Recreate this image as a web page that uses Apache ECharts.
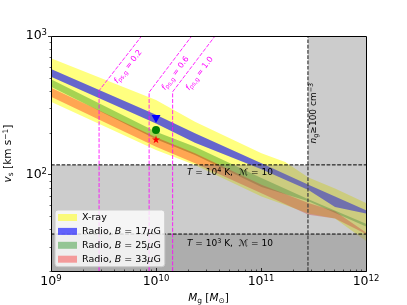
<!DOCTYPE html>
<html><head><meta charset="utf-8">
<script src="https://cdn.jsdelivr.net/npm/echarts@6.0.0/dist/echarts.min.js"></script>
<style>html,body{margin:0;padding:0;background:#fff}#c{width:407px;height:305px}</style>
</head><body><div id="c"></div>
<script>
// ---------------- data ----------------
// X-ray band
const xrayMass  = [1e9, 1e10, 2.35e10, 1.01e11, 1.7e11, 2.83e11, 5.07e11, 1e12];
const xrayHigh  = [690, 344, 240, 142, 123, 95, 79, 62];
const xrayLow   = [335, 150, 117, 69, 60, 52, 48, 33];
// Radio B = 17 muG
const b17Mass = [1e9, 1e10, 2.35e10, 1.01e11, 2.83e11, 5.07e11, 1e12];
const b17High = [577, 270, 198, 120, 84, 69, 55];
const b17Low  = [508, 233, 169, 109, 77, 58, 52];
// Radio B = 25 muG
const b25Mass = [1e9, 1e10, 2.35e10, 1.01e11, 2.83e11, 1e12];
const b25High = [486, 203, 158, 94, 66, 44];
const b25Low  = [430, 179, 138, 81, 64, 42];
// Radio B = 33 muG
const b33Mass = [1e9, 1e10, 2.35e10, 1.01e11, 2.83e11, 5.07e11, 1e12];
const b33High = [422, 185, 142, 84, 62, 54, 38];
const b33Low  = [364, 158, 120, 73, 51, 48, 37];
// markers at M = 1e10
const markerMass = [1e10, 1e10, 1e10];
const markerV    = [251, 209, 179];
// thresholds
const vT4 = 117;     // T = 1e4 K, M = 10
const vT3 = 37;      // T = 1e3 K, M = 10
const mDens = 2.8e11; // n_g >= 100 cm^-3
// f_ps,g lines
const fLabels    = ['0.2', '0.6', '1.0'];
const fLineMass  = [2.87e9, 8.6e9, 1.44e10];
const fKneeV     = [403, 392, 395];
const fTopMass   = [7.3e9, 2.19e10, 3.65e10];
const fLabelMass = [5.44e9, 1.53e10, 2.6e10];
const fLabelV    = [600, 537, 535];
// axes
const xMin = 1e9, xMax = 1e12, yMin = 20, yMax = 1000;
const xMajor = [1e9, 1e10, 1e11, 1e12];
const yMajor = [100, 1000];
const legendNames = ['X-ray', 'Radio, B = 17μG', 'Radio, B = 25μG', 'Radio, B = 33μG'];

// ---------------- chart ----------------
const FF = 'DejaVu Sans';
const chart = echarts.init(document.getElementById('c'), null, {renderer: 'canvas'});

function band(name, mass, lo, hi, color, z) {
  return {
    type: 'custom', name: name, z: z, clip: true, silent: true,
    coordinateSystem: 'cartesian2d', encode: {x: 0, y: 1},
    itemStyle: {color: color},
    data: mass.map((m, i) => [m, hi[i]]),
    renderItem: function (params, api) {
      if (params.dataIndex !== 0) return null;
      const pts = [];
      for (let i = 0; i < mass.length; i++) pts.push(api.coord([mass[i], hi[i]]));
      for (let i = mass.length - 1; i >= 0; i--) pts.push(api.coord([mass[i], lo[i]]));
      return {type: 'polygon', shape: {points: pts}, style: {fill: color}};
    }
  };
}

const regionData = [
  [xMin, yMin, xMax, vT4],
  [mDens, vT4, xMax, yMax],
  [xMin, yMin, xMax, vT3]
];

function sup(t) { return '{s|' + t + '}'; }
const richBase = {
  n: {fontFamily: FF, fontSize: 9, fill: '#000', lineHeight: 12},
  i: {fontFamily: FF, fontSize: 9, fontStyle: 'italic', fill: '#000', lineHeight: 12},
  s: {fontFamily: FF, fontSize: 6.5, fill: '#000', verticalAlign: 'top', lineHeight: 7},
  b: {fontFamily: FF, fontSize: 6.5, fill: '#000', verticalAlign: 'bottom', lineHeight: 7},
  m: {fontFamily: FF, fontSize: 9, fontStyle: 'italic', fill: '#000', lineHeight: 12}
};

const annTexts = [
  '{i|T}{n| = 10}{s|4}{n| K,  }{m|ℳ}{n| = 10}',
  '{i|T}{n| = 10}{s|3}{n| K,  }{m|ℳ}{n| = 10}',
  '{i|n}{b|g}{n|≥100 cm}{s|−3}'
];
const annMass = [1.97e10, 1.97e10, 3.2e11];
const annV    = [102, 31.7, 277];
const annRot  = [0, 0, Math.PI / 2];
const annAlign = ['left', 'left', 'center'];

const fRich = {
  i: {fontFamily: FF, fontSize: 8, fontStyle: 'italic', fill: '#ff00ff', lineHeight: 10},
  b: {fontFamily: FF, fontSize: 6, fill: '#ff00ff', verticalAlign: 'bottom', lineHeight: 6},
  n: {fontFamily: FF, fontSize: 8, fill: '#ff00ff', lineHeight: 10}
};

const series = [
  band('X-ray', xrayMass, xrayLow, xrayHigh, 'rgba(255,255,0,0.5)', 2),
  band(legendNames[1], b17Mass, b17Low, b17High, 'rgba(0,0,255,0.6)', 2),
  band(legendNames[2], b25Mass, b25Low, b25High, 'rgba(0,128,0,0.35)', 2),
  band(legendNames[3], b33Mass, b33Low, b33High, 'rgba(255,0,0,0.35)', 2),
  {
    type: 'custom', name: 'regions', z: 3, silent: true, clip: true,
    coordinateSystem: 'cartesian2d', encode: {x: [0, 2], y: [1, 3]},
    data: regionData,
    renderItem: function (params, api) {
      const p0 = api.coord([api.value(0), api.value(3)]);
      const p1 = api.coord([api.value(2), api.value(1)]);
      return {type: 'rect', shape: {x: p0[0], y: p0[1], width: p1[0] - p0[0], height: p1[1] - p0[1]},
              style: {fill: 'rgba(128,128,128,0.4)'}};
    }
  }
];

// magenta f lines
for (let i = 0; i < fLabels.length; i++) {
  series.push({
    type: 'line', z: 4, silent: true, showSymbol: false, symbol: 'none',
    data: [[fLineMass[i], yMin], [fLineMass[i], fKneeV[i]], [fTopMass[i], yMax]],
    lineStyle: {color: '#ff00ff', width: 1, type: [4, 1.6], opacity: 0.85}
  });
}
// threshold dashed lines
series.push({type: 'line', z: 4, silent: true, symbol: 'none', data: [[xMin, vT4], [xMax, vT4]],
  lineStyle: {color: '#000', width: 1, type: [3.7, 1.6]}});
series.push({type: 'line', z: 4, silent: true, symbol: 'none', data: [[xMin, vT3], [xMax, vT3]],
  lineStyle: {color: '#000', width: 1, type: [3.7, 1.6]}});
series.push({type: 'line', z: 4, silent: true, symbol: 'none', data: [[mDens, yMin], [mDens, yMax]],
  lineStyle: {color: '#444', width: 1.3, type: [3.7, 1.6]}});
// markers
series.push({type: 'scatter', z: 5, silent: true, symbol: 'triangle', symbolRotate: 180, symbolSize: [9, 8],
  data: [[markerMass[0], markerV[0]]], itemStyle: {color: '#0000ff', opacity: 1}});
series.push({type: 'scatter', z: 5, silent: true, symbol: 'circle', symbolSize: 8,
  data: [[markerMass[1], markerV[1]]], itemStyle: {color: '#008000', opacity: 1}});
series.push({type: 'scatter', z: 5, silent: true,
  symbol: 'path://M50,0 L61,35 L98,35 L68,57 L79,91 L50,70 L21,91 L32,57 L2,35 L39,35 Z', symbolSize: 8,
  data: [[markerMass[2], markerV[2]]], itemStyle: {color: '#ff0000', opacity: 1}});
// text annotations
series.push({
  type: 'custom', z: 6, silent: true, coordinateSystem: 'cartesian2d', encode: {x: 0, y: 1},
  data: annMass.map((m, i) => [m, annV[i]]),
  renderItem: function (params, api) {
    const k = params.dataIndex;
    const p = api.coord([api.value(0), api.value(1)]);
    return {type: 'text', x: p[0], y: p[1], rotation: annRot[k],
      style: {text: annTexts[k], rich: richBase, align: annAlign[k], verticalAlign: 'middle', fill: '#000'}};
  }
});
series.push({
  type: 'custom', z: 6, silent: true, coordinateSystem: 'cartesian2d', encode: {x: 0, y: 1},
  data: fLabelMass.map((m, i) => [m, fLabelV[i]]),
  renderItem: function (params, api) {
    const k = params.dataIndex;
    const p = api.coord([api.value(0), api.value(1)]);
    const a = api.coord([fLineMass[k], fKneeV[k]]);
    const b = api.coord([fTopMass[k], yMax]);
    const rot = Math.atan2(a[1] - b[1], b[0] - a[0]);
    return {type: 'text', x: p[0], y: p[1], rotation: rot,
      style: {text: '{i|f}{b|ps,g}{n| = ' + fLabels[k] + '}', rich: fRich, align: 'center', verticalAlign: 'middle'}};
  }
});
// ticks + frame
series.push({
  type: 'custom', z: 7, silent: true, clip: false, coordinateSystem: 'cartesian2d', encode: {x: 0, y: 1},
  data: [[xMin, yMin]],
  renderItem: function (params, api) {
    const ch = [];
    const tl = api.coord([xMin, yMax]), br = api.coord([xMax, yMin]);
    const x0 = Math.round(tl[0]) + 0.5, y0 = Math.round(tl[1]) + 0.5;
    const x1 = Math.round(br[0]) + 0.5, y1 = Math.round(br[1]) + 0.5;
    const ln = (xa, ya, xb, yb, w) => ch.push({type: 'line', shape: {x1: xa, y1: ya, x2: xb, y2: yb},
      style: {stroke: '#000', lineWidth: w}});
    xMajor.forEach(v => { const x = Math.round(api.coord([v, yMin])[0]) + 0.5; ln(x, y1, x, y1 - 3.5, 0.8); });
    [1e9, 1e10, 1e11].forEach(d => { for (let k = 2; k <= 9; k++) {
      const x = Math.round(api.coord([d * k, yMin])[0]) + 0.5; ln(x, y1, x, y1 - 2, 0.6); } });
    yMajor.forEach(v => { const y = Math.round(api.coord([xMin, v])[1]) + 0.5; ln(x0, y, x0 - 3.5, y, 0.8); });
    [10, 100].forEach(d => { for (let k = 2; k <= 9; k++) { if (d * k < yMin) continue;
      const y = Math.round(api.coord([xMin, d * k])[1]) + 0.5; ln(x0, y, x0 - 2, y, 0.6); } });
    ch.push({type: 'rect', shape: {x: x0, y: y0, width: x1 - x0, height: y1 - y0},
      style: {fill: 'none', stroke: '#000', lineWidth: 1}});
    return {type: 'group', children: ch};
  }
});

function powLabel(v) {
  const l = Math.log10(v), e = Math.round(l);
  if (Math.abs(l - e) > 1e-6) return '';
  return '{b|10}{s|' + e + '}';
}
const tickRich = {
  b: {fontFamily: FF, fontSize: 12.5, color: '#000', lineHeight: 15},
  s: {fontFamily: FF, fontSize: 8.5, color: '#000', verticalAlign: 'top', lineHeight: 9}
};

chart.setOption({
  animation: false,
  backgroundColor: '#fff',
  grid: {left: 51, right: 41, top: 36, bottom: 34, outerBoundsMode: 'none', containLabel: false},
  xAxis: {
    type: 'log', logBase: 10, min: xMin, max: xMax,
    axisLine: {show: false}, axisTick: {show: false}, splitLine: {show: false}, minorTick: {show: false},
    axisLabel: {formatter: powLabel, rich: tickRich, margin: 3, showMinLabel: true, showMaxLabel: true, hideOverlap: false},
    name: '{i|M}{b|g}{n| [}{i|M}{b|⊙}{n|]}', nameLocation: 'middle', nameGap: 16,
    nameTextStyle: {rich: {
      n: {fontFamily: FF, fontSize: 10.5, color: '#000', lineHeight: 13},
      i: {fontFamily: FF, fontSize: 10.5, fontStyle: 'italic', color: '#000', lineHeight: 13},
      b: {fontFamily: FF, fontSize: 7.5, color: '#000', verticalAlign: 'bottom', lineHeight: 8}
    }}
  },
  yAxis: {
    type: 'log', logBase: 10, min: yMin, max: yMax,
    axisLine: {show: false}, axisTick: {show: false}, splitLine: {show: false}, minorTick: {show: false},
    axisLabel: {formatter: powLabel, rich: tickRich, margin: 4, showMinLabel: true, showMaxLabel: true, hideOverlap: false},
    name: '{i|v}{b|s}{n| [km s}{s|−1}{n|]}', nameLocation: 'middle', nameGap: 31, nameRotate: 90,
    nameTextStyle: {rich: {
      n: {fontFamily: FF, fontSize: 10.5, color: '#000', lineHeight: 13},
      i: {fontFamily: FF, fontSize: 10.5, fontStyle: 'italic', color: '#000', lineHeight: 13},
      b: {fontFamily: FF, fontSize: 7.5, color: '#000', verticalAlign: 'bottom', lineHeight: 8},
      s: {fontFamily: FF, fontSize: 7.5, color: '#000', verticalAlign: 'top', lineHeight: 8}
    }}
  },
  legend: {
    left: 55, top: 210, orient: 'vertical', z: 10,
    itemWidth: 19, itemHeight: 7, itemGap: 3.9,
    backgroundColor: 'rgba(255,255,255,0.8)', borderColor: '#cccccc', borderWidth: 1, borderRadius: 3,
    padding: [2.5, 4, 2.5, 3], selectedMode: false,
    data: [
      {name: legendNames[0], icon: 'rect', itemStyle: {color: 'rgba(255,255,0,0.5)'}},
      {name: legendNames[1], icon: 'rect', itemStyle: {color: 'rgba(0,0,255,0.6)'}},
      {name: legendNames[2], icon: 'rect', itemStyle: {color: 'rgba(0,128,0,0.38)'}},
      {name: legendNames[3], icon: 'rect', itemStyle: {color: 'rgba(255,0,0,0.35)'}}
    ],
    formatter: function (name) {
      if (name === 'X-ray') return '{n|X-ray}';
      const m = name.match(/B = (\d+)μG/);
      return '{n|Radio, }{i|B}{n| = ' + m[1] + '}{i|μ}{n|G}';
    },
    textStyle: {fontFamily: FF, fontSize: 9.5, lineHeight: 10, color: '#000', rich: {
      n: {fontFamily: FF, fontSize: 9.5, color: '#000', lineHeight: 10},
      i: {fontFamily: FF, fontSize: 9.5, fontStyle: 'italic', color: '#000', lineHeight: 10}
    }}
  },
  series: series
});
</script>
</body></html>
